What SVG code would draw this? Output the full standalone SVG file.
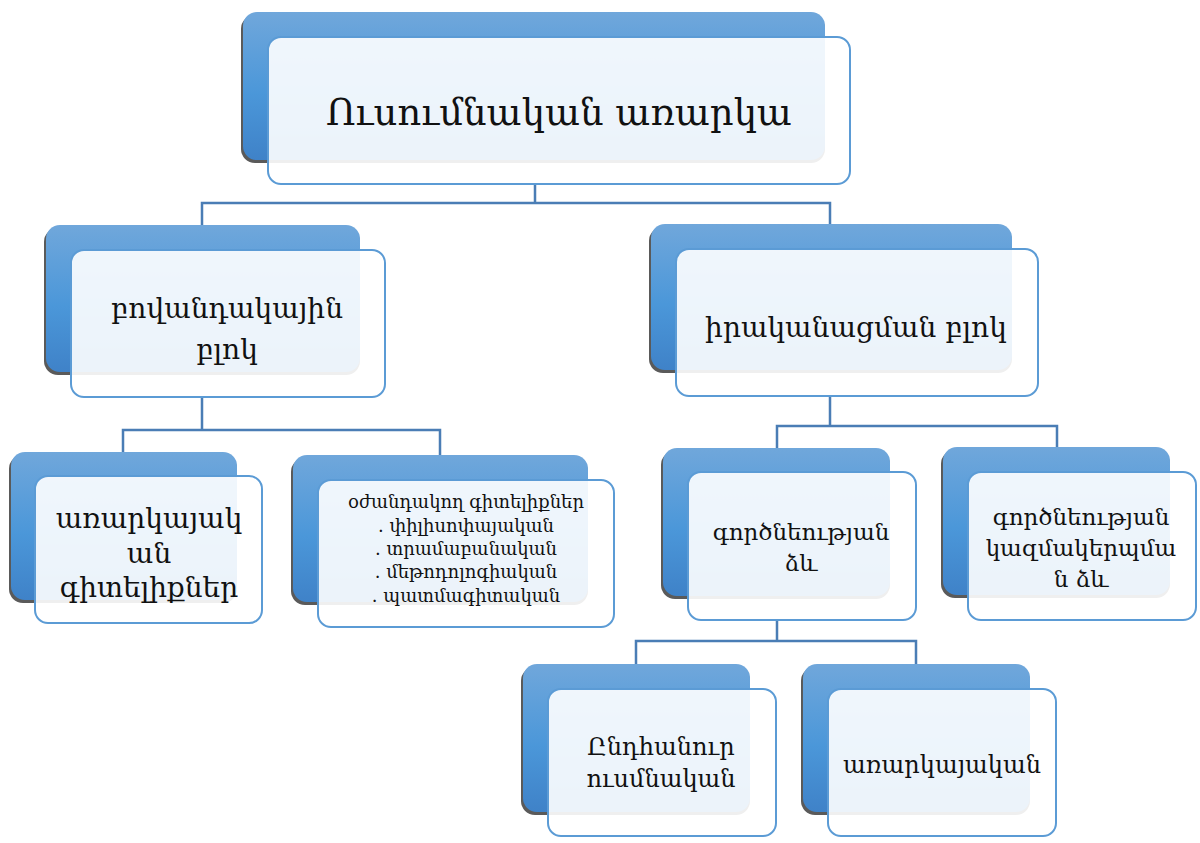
<svg xmlns="http://www.w3.org/2000/svg" width="1200" height="843" viewBox="0 0 1200 843">
<defs>
<linearGradient id="bg" x1="0" y1="0" x2="0" y2="1">
<stop offset="0" stop-color="#70a7db"/>
<stop offset="0.55" stop-color="#4b97d9"/>
<stop offset="1" stop-color="#3f82c8"/>
</linearGradient>
<style>
.sh{fill:#5a5a5a}
.bk{fill:url(#bg)}
.fr{fill:#ffffff;fill-opacity:0.9;stroke:#5b9bd5;stroke-width:2}
.cn{fill:none;stroke:#4a7db5;stroke-width:2.5}
text{font-family:"DejaVu Serif","Noto Serif",serif;fill:#111;text-anchor:middle}
</style>
</defs>
<rect width="1200" height="843" fill="#ffffff"/>
<g id="connectors">
<path class="cn" d="M535 185V203M202 225V203H830V225"/>
<path class="cn" d="M202 398V430M123 452V430H440V455"/>
<path class="cn" d="M830 396V426M777 448V426H1057V448"/>
<path class="cn" d="M777 620V641M636 664V641H916V664"/>
</g>
<g id="n-top">
<rect class="sh" x="241" y="15" width="584" height="148" rx="14"/>
<rect class="bk" x="243" y="12" width="582" height="148" rx="14"/>
<rect class="fr" x="268" y="37" width="582" height="147" rx="13"/>
<text x="559" y="125" font-size="37">Ուսումնական առարկա</text>
</g>
<g id="n-content">
<rect class="sh" x="44" y="228" width="316" height="147" rx="14"/>
<rect class="bk" x="46" y="225" width="314" height="147" rx="14"/>
<rect class="fr" x="71" y="250" width="314" height="147" rx="13"/>
<text x="227" y="318" font-size="28">բովանդակային</text>
<text x="227" y="359" font-size="28">բլոկ</text>
</g>
<g id="n-impl">
<rect class="sh" x="649" y="227" width="363" height="146" rx="14"/>
<rect class="bk" x="651" y="224" width="361" height="146" rx="14"/>
<rect class="fr" x="676" y="249" width="362" height="147" rx="13"/>
<text x="856" y="337" font-size="28">իրականացման բլոկ</text>
</g>
<g id="n-subject">
<rect class="sh" x="9" y="455" width="228" height="148" rx="14"/>
<rect class="bk" x="11" y="452" width="226" height="148" rx="14"/>
<rect class="fr" x="35" y="476" width="227" height="147" rx="13"/>
<text x="149" y="528" font-size="28">առարկայակ</text>
<text x="149" y="563" font-size="28">ան</text>
<text x="149" y="597" font-size="28">գիտելիքներ</text>
</g>
<g id="n-aux">
<rect class="sh" x="291" y="458" width="297" height="147" rx="14"/>
<rect class="bk" x="293" y="455" width="295" height="147" rx="14"/>
<rect class="fr" x="318" y="480" width="296" height="147" rx="13"/>
<text x="466" y="508" font-size="18">օժանդակող գիտելիքներ</text>
<text x="466" y="532" font-size="18">. փիլիսոփայական</text>
<text x="466" y="555" font-size="18">. տրամաբանական</text>
<text x="466" y="578" font-size="18">. մեթոդոլոգիական</text>
<text x="466" y="602" font-size="18">. պատմագիտական</text>
</g>
<g id="n-form">
<rect class="sh" x="661" y="451" width="229" height="148" rx="14"/>
<rect class="bk" x="663" y="448" width="227" height="148" rx="14"/>
<rect class="fr" x="688" y="472" width="228" height="148" rx="13"/>
<text x="801" y="540" font-size="23">գործնեության</text>
<text x="801" y="571" font-size="23">ձև</text>
</g>
<g id="n-org">
<rect class="sh" x="941" y="450" width="229" height="148" rx="14"/>
<rect class="bk" x="943" y="447" width="227" height="148" rx="14"/>
<rect class="fr" x="968" y="472" width="228" height="148" rx="13"/>
<text x="1081" y="525" font-size="23">գործնեության</text>
<text x="1081" y="556" font-size="23">կազմակերպմա</text>
<text x="1081" y="587" font-size="23">ն ձև</text>
</g>
<g id="n-general">
<rect class="sh" x="521" y="667" width="229" height="148" rx="14"/>
<rect class="bk" x="523" y="664" width="227" height="148" rx="14"/>
<rect class="fr" x="548" y="689" width="228" height="147" rx="13"/>
<text x="661" y="755" font-size="24">Ընդհանուր</text>
<text x="661" y="787" font-size="24">ուսմնական</text>
</g>
<g id="n-subj2">
<rect class="sh" x="801" y="667" width="229" height="148" rx="14"/>
<rect class="bk" x="803" y="664" width="227" height="148" rx="14"/>
<rect class="fr" x="828" y="689" width="228" height="147" rx="13"/>
<text x="942" y="773" font-size="24">առարկայական</text>
</g>
</svg>
